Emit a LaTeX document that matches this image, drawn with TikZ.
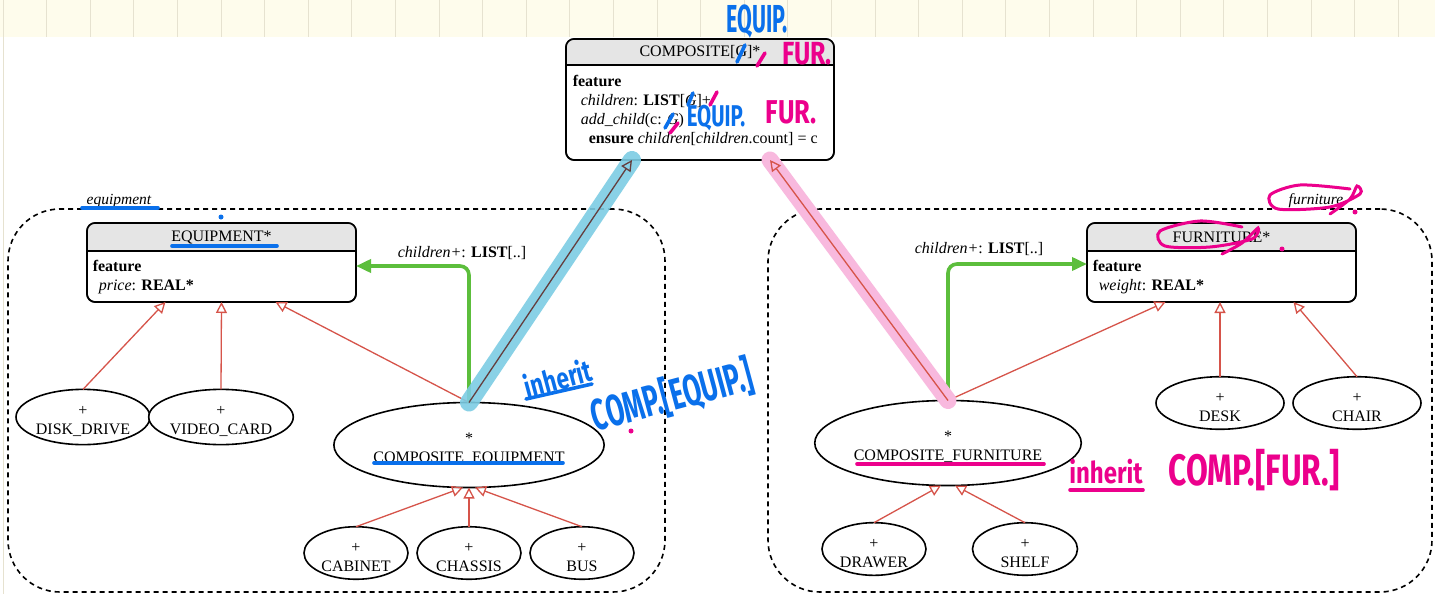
\documentclass[tikz,border=0pt]{standalone}
\usepackage{fontspec}
\setmainfont{Liberation Serif}
\newfontfamily\handfont{Fira Sans}
\usetikzlibrary{arrows.meta,shapes.geometric,positioning}

\definecolor{headgray}{RGB}{229,229,229}
\definecolor{inhred}{RGB}{214,84,74}
\definecolor{darkline}{RGB}{100,62,62}
\definecolor{clientgreen}{RGB}{92,190,60}
\definecolor{inkblue}{RGB}{10,112,235}
\definecolor{inkpink}{RGB}{236,0,140}
\definecolor{bandblue}{RGB}{125,205,228}
\definecolor{bandpink}{RGB}{248,185,222}
\definecolor{paper}{RGB}{254,252,236}
\definecolor{paperline}{RGB}{230,226,208}

\def\hx{0.6}
\def\mk#1{\raisebox{0pt}[18pt][0pt]{#1}}

\begin{document}
\begin{tikzpicture}[x=1pt, y=-1pt, line width=1.6pt, font=\fontsize{16}{19}\selectfont,
	classbox/.style={draw, rounded corners=8pt, fill=white, inner sep=0, outer sep=0},
	cls/.style={ellipse, draw, fill=white, inner sep=0, outer sep=0, align=center},
	feat/.style={anchor=base west, inner sep=0},
	inh/.style={draw=inhred, line width=1.3pt, -{Triangle[open, length=11pt, width=11pt]}},
	client/.style={draw=clientgreen, line width=3.6pt, rounded corners=9pt, -{Triangle[length=15pt, width=13pt]}},
	zone/.style={draw, dash pattern=on 5pt off 4pt, rounded corners=52pt, inner sep=0, outer sep=0},
	zonename/.style={anchor=base, inner sep=0, font=\fontsize{15.5}{17}\selectfont\itshape},
	hand/.style={inner sep=0, font=\handfont\bfseries},
	stroke/.style={line width=3.6pt, line cap=round}]

	\useasboundingbox (0,0) rectangle (1435,594);
	\fill[white] (0,0) rectangle (1435,594);
	\fill[paper] (0,0) rectangle (1435,37);
	\foreach \i in {0,...,32}
		\draw[paperline, line width=1pt] (3+43.6*\i,0) -- (3+43.6*\i,37);
	\draw[paperline, line width=0.8pt] (3,37) -- (3,594);

	% clusters
	\node[zone, minimum width=657, minimum height=383] (eqzone) at (336.5,400.5) {};
	\node[zone, minimum width=664, minimum height=383] (fuzone) at (1100,400.5) {};
	\node[zonename] (eqname) at (119,204) {equipment};
	\node[zonename] (funame) at (1316,204) {furniture};

	% COMPOSITE[G]
	\node[classbox, minimum width=268, minimum height=121] (comp) at (700,99.5) {};
	\begin{scope}
		\clip[rounded corners=8pt] (comp.north west) rectangle (comp.south east);
		\fill[headgray] (comp.north west) rectangle ([yshift=-26pt]comp.north east);
	\end{scope}
	\draw[rounded corners=8pt] (comp.north west) rectangle (comp.south east);
	\draw ([yshift=-26pt]comp.north west) -- ([yshift=-26pt]comp.north east);
	\node (comptitle) at ([yshift=-13pt]comp.north) {COMPOSITE[G]*};
	\node[feat] (compf1) at (572,86) {\textbf{feature}};
	\node[feat] (compf2) at (580,105) {\textit{children}: \textbf{LIST}[\textit{G}]+};
	\node[feat] (compf3) at (580,124) {\textit{add\_child}(c: \textit{G})};
	\node[feat] (compf4) at (588,143) {\textbf{ensure} \textit{children}[\textit{children}.count] = c};

	% EQUIPMENT
	\node[classbox, minimum width=269, minimum height=79] (equip) at (221.5,262.5) {};
	\begin{scope}
		\clip[rounded corners=8pt] (equip.north west) rectangle (equip.south east);
		\fill[headgray] (equip.north west) rectangle ([yshift=-28pt]equip.north east);
	\end{scope}
	\draw[rounded corners=8pt] (equip.north west) rectangle (equip.south east);
	\draw ([yshift=-28pt]equip.north west) -- ([yshift=-28pt]equip.north east);
	\node (equiptitle) at ([yshift=-14pt]equip.north) {EQUIPMENT*};
	\node[feat] (equipf1) at (92,271) {\textbf{feature}};
	\node[feat] (equipf2) at (98,290) {\textit{price}: \textbf{REAL*}};

	% FURNITURE
	\node[classbox, minimum width=269, minimum height=79] (furn) at (1221.5,262.5) {};
	\begin{scope}
		\clip[rounded corners=8pt] (furn.north west) rectangle (furn.south east);
		\fill[headgray] (furn.north west) rectangle ([yshift=-28pt]furn.north east);
	\end{scope}
	\draw[rounded corners=8pt] (furn.north west) rectangle (furn.south east);
	\draw ([yshift=-28pt]furn.north west) -- ([yshift=-28pt]furn.north east);
	\node (furntitle) at ([yshift=-14pt]furn.north) {FURNITURE*};
	\node[feat] (furnf1) at (1092,271) {\textbf{feature}};
	\node[feat] (furnf2) at (1098,290) {\textit{weight}: \textbf{REAL*}};

	% effective classes
	\node[cls, minimum width=134, minimum height=52] (disk) at (83,417) {\mk{+}\\DISK\_DRIVE};
	\node[cls, minimum width=132, minimum height=52] (video) at (221,417) {\mk{+}\\VIDEO\_CARD};
	\node[cls, minimum width=236, minimum height=85] (compeq) at (469,445) {\mk{*}\\COMPOSITE\_EQUIPMENT};
	\node[cls, minimum width=104, minimum height=52] (cabinet) at (356,553) {\mk{+}\\CABINET};
	\node[cls, minimum width=104, minimum height=52] (chassis) at (469,553) {\mk{+}\\CHASSIS};
	\node[cls, minimum width=104, minimum height=52] (bus) at (582,553) {\mk{+}\\BUS};
	\node[cls, minimum width=233, minimum height=85] (compfur) at (948,443) {\mk{*}\\COMPOSITE\_FURNITURE};
	\node[cls, minimum width=128, minimum height=48] (desk) at (1220,403) {\mk{+}\\DESK};
	\node[cls, minimum width=128, minimum height=48] (chair) at (1357,403) {\mk{+}\\CHAIR};
	\node[cls, minimum width=104, minimum height=50] (drawer) at (874,549) {\mk{+}\\DRAWER};
	\node[cls, minimum width=105, minimum height=50] (shelf) at (1025,549) {\mk{+}\\SHELF};

	% inheritance
	\draw[inh] (disk.north) to ([xshift=-56pt]equip.south);
	\draw[inh] (video.north) to (equip.south);
	\draw[inh] (compeq.north) to ([xshift=54pt]equip.south);
	\draw[inh] (cabinet.north) to ([xshift=-6pt]compeq.south);
	\draw[inh] (chassis.north) to (compeq.south);
	\draw[inh] (bus.north) to ([xshift=6pt]compeq.south);
	\draw[inh] (compfur.north) to ([xshift=-56pt]furn.south);
	\draw[inh] (desk.north) to ([xshift=-1.5pt]furn.south);
	\draw[inh] (chair.north) to ([xshift=72pt]furn.south);
	\draw[inh] (drawer.north) to ([xshift=-7pt]compfur.south);
	\draw[inh] (shelf.north) to ([xshift=7pt]compfur.south);

	% client links
	\draw[client] (compeq.north) |- ([yshift=-3.5pt]equip.east);
	\draw[client] (compfur.north) |- ([yshift=-1.5pt]furn.west);
	\node[anchor=base west, inner sep=0] (eqlink) at (397,257) {\textit{children+}: \textbf{LIST}[..]};
	\node[anchor=base west, inner sep=0] (fulink) at (914,253) {\textit{children+}: \textbf{LIST}[..]};

	% highlighted inheritance from COMPOSITE
	\draw[bandblue, line width=18pt, line cap=round, opacity=0.9] (compeq.north) -- ([xshift=-68pt]comp.south);
	\draw[inh, draw=darkline] (compeq.north) to ([xshift=-68pt]comp.south);
	\draw[bandpink, line width=17pt, line cap=round] (compfur.north) -- ([xshift=70pt]comp.south);
	\draw[inh] (compfur.north) to ([xshift=70pt]comp.south);

	% blue notes
	\node[hand, text=inkblue, font=\handfont\bfseries\fontsize{39}{39}\selectfont] (bnote1) at (757,22) {\scalebox{0.55}[1]{EQUIP.}};
	\node[hand, text=inkblue, font=\handfont\bfseries\fontsize{30}{30}\selectfont] (bnote2) at (716,118) {\scalebox{0.68}[1]{EQUIP.}};
	\node[hand, text=inkblue, rotate=15, font=\handfont\bfseries\fontsize{30}{30}\selectfont] (bnote3) at (558,378) {\scalebox{0.75}[1]{inherit}};
	\node[hand, text=inkblue, rotate=15, font=\handfont\bfseries\fontsize{44}{44}\selectfont] (bnote4) at (672,396) {\scalebox{\hx}[1]{COMP.[EQUIP.]}};
	\draw[inkblue, stroke] (737,62) -- (745,45);
	\draw[inkblue, stroke] (688,105) -- (693,93);
	\draw[inkblue, stroke] (665,128) -- (673,114);
	\draw[inkblue, stroke] (82,208) -- (158,208);
	\draw[inkblue, stroke] (172,246) -- (277,246);
	\draw[inkblue, stroke] (374,463) -- (563,463);
	\draw[inkblue, stroke] (526,399) -- (592,384);
	\fill[inkblue] (221,217) circle (2.5);

	% pink notes
	\node[hand, text=inkpink, font=\handfont\bfseries\fontsize{32}{32}\selectfont] (pnote1) at (807,54) {\scalebox{0.78}[1]{FUR.}};
	\node[hand, text=inkpink, font=\handfont\bfseries\fontsize{33}{33}\selectfont] (pnote2) at (791,112) {\scalebox{0.77}[1]{FUR.}};
	\node[hand, text=inkpink, font=\handfont\bfseries\fontsize{30}{30}\selectfont] (pnote3) at (1106,472) {\scalebox{0.8}[1]{inherit}};
	\node[hand, text=inkpink, font=\handfont\bfseries\fontsize{44}{44}\selectfont] (pnote4) at (1254,470) {\scalebox{0.72}[1]{COMP.[FUR.]}};
	\draw[inkpink, stroke] (757,66) -- (765,53);
	\draw[inkpink, stroke] (710,105) -- (717,92);
	\draw[inkpink, stroke] (670,133) -- (678,123);
	\draw[inkpink, stroke] (857,464) -- (1044,464);
	\draw[inkpink, stroke] (1070,490) -- (1143,490);
	\draw[inkpink, line width=3pt, line cap=round] plot[smooth] coordinates {(1350,189) (1300,185) (1270,195) (1278,209) (1330,207) (1360,194) (1357,186) (1350,199) (1330,214)};
	\draw[inkpink, line width=3pt, line cap=round] plot[smooth] coordinates {(1242,227) (1200,221) (1160,231) (1165,246) (1210,247) (1252,239) (1258,228) (1242,243) (1222,254)};
	\fill[inkpink] (1355,212) circle (2.5);
	\fill[inkpink] (1282,249) circle (2.5);
	\fill[inkpink] (631,431) circle (2.5);
\end{tikzpicture}
\end{document}
